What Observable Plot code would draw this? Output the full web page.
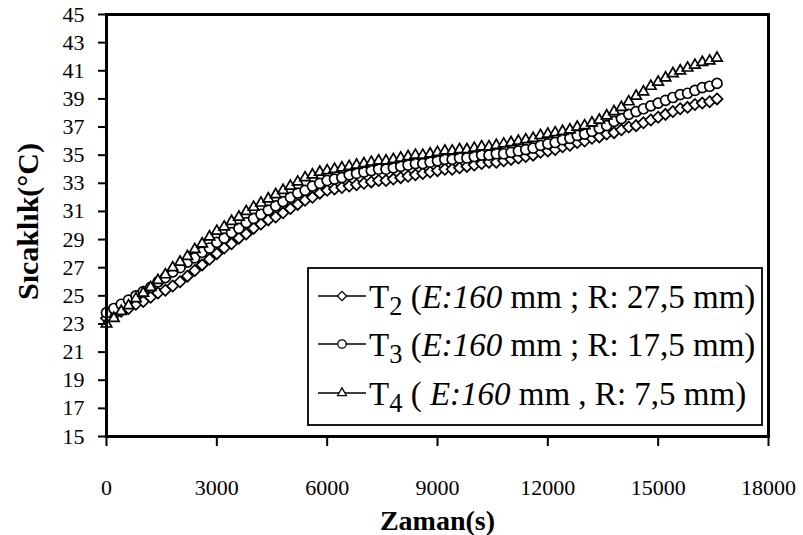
<!DOCTYPE html>
<html>
<head>
<meta charset="utf-8">
<script src="https://cdn.jsdelivr.net/npm/d3@7"></script>
<script src="https://cdn.jsdelivr.net/npm/@observablehq/plot@0.6"></script>
<style>
  html, body { margin: 0; padding: 0; background: #fff; }
  #chart { width: 803px; height: 535px; }
</style>
</head>
<body>
<div id="chart"></div>
<script>
// Sample times (s)
const times = [
  0, 200, 400, 600, 800, 1000, 1200, 1400, 1600, 1800,
  2000, 2200, 2400, 2600, 2800, 3000, 3200, 3400, 3600, 3800,
  4000, 4200, 4400, 4600, 4800, 5000, 5200, 5400, 5600, 5800,
  6000, 6200, 6400, 6600, 6800, 7000, 7200, 7400, 7600, 7800,
  8000, 8200, 8400, 8600, 8800, 9000, 9200, 9400, 9600, 9800,
  10000, 10200, 10400, 10600, 10800, 11000, 11200, 11400, 11600, 11800,
  12000, 12200, 12400, 12600, 12800, 13000, 13200, 13400, 13600, 13800,
  14000, 14200, 14400, 14600, 14800, 15000, 15200, 15400, 15600, 15800,
  16000, 16200, 16400, 16600
];

// T2 (E:160 mm ; R: 27,5 mm), °C
const t2 = [
  23.4, 23.6, 23.9, 24.1, 24.4, 24.6, 24.9, 25.2, 25.4, 25.7,
  26.0, 26.4, 26.8, 27.2, 27.6, 28.0, 28.4, 28.7, 29.1, 29.4,
  29.8, 30.1, 30.4, 30.6, 30.9, 31.2, 31.5, 31.8, 32.0, 32.3,
  32.5, 32.6, 32.7, 32.8, 32.9, 33.0, 33.1, 33.2, 33.2, 33.3,
  33.4, 33.5, 33.6, 33.7, 33.8, 33.9, 34.0, 34.0, 34.1, 34.2,
  34.3, 34.4, 34.5, 34.5, 34.6, 34.7, 34.8, 34.9, 35.0, 35.2,
  35.3, 35.4, 35.6, 35.7, 35.9, 36.0, 36.2, 36.3, 36.5, 36.6,
  36.8, 37.0, 37.1, 37.3, 37.5, 37.7, 37.9, 38.1, 38.3, 38.4,
  38.6, 38.7, 38.8, 39.0
];

// T3 (E:160 mm ; R: 17,5 mm), °C
const t3 = [
  23.8, 24.1, 24.4, 24.7, 25.0, 25.3, 25.6, 26.0, 26.3, 26.7,
  27.0, 27.4, 27.7, 28.1, 28.4, 28.8, 29.1, 29.5, 29.8, 30.2,
  30.5, 30.8, 31.1, 31.4, 31.7, 32.0, 32.3, 32.5, 32.8, 33.0,
  33.2, 33.3, 33.4, 33.6, 33.7, 33.8, 33.9, 34.0, 34.0, 34.1,
  34.2, 34.3, 34.4, 34.4, 34.5, 34.6, 34.7, 34.7, 34.8, 34.8,
  34.9, 35.0, 35.0, 35.1, 35.1, 35.2, 35.3, 35.4, 35.5, 35.7,
  35.8, 35.9, 36.1, 36.2, 36.4, 36.5, 36.7, 36.9, 37.1, 37.4,
  37.6, 37.9, 38.1, 38.3, 38.5, 38.7, 38.9, 39.1, 39.3, 39.4,
  39.6, 39.8, 39.9, 40.1
];

// T4 (E:160 mm , R: 7,5 mm), °C
const t4 = [
  23.0, 23.4, 23.9, 24.3, 24.8, 25.2, 25.6, 26.1, 26.5, 27.0,
  27.4, 27.8, 28.3, 28.7, 29.2, 29.6, 29.9, 30.3, 30.6, 31.0,
  31.3, 31.6, 31.9, 32.2, 32.5, 32.8, 33.1, 33.4, 33.6, 33.8,
  33.9, 34.0, 34.1, 34.2, 34.3, 34.4, 34.5, 34.6, 34.6, 34.7,
  34.8, 34.9, 35.0, 35.0, 35.1, 35.2, 35.3, 35.3, 35.4, 35.4,
  35.5, 35.6, 35.6, 35.7, 35.8, 35.9, 36.0, 36.1, 36.2, 36.4,
  36.5, 36.6, 36.7, 36.8, 37.0, 37.1, 37.3, 37.5, 37.8, 38.1,
  38.4, 38.8, 39.2, 39.5, 39.9, 40.2, 40.5, 40.8, 41.0, 41.2,
  41.4, 41.6, 41.7, 41.9
];

const xTicks = [0, 3000, 6000, 9000, 12000, 15000, 18000];
const yTicks = [15, 17, 19, 21, 23, 25, 27, 29, 31, 33, 35, 37, 39, 41, 43, 45];

const seriesNames = ["T2", "T3", "T4"];
const seriesSub = ["2", "3", "4"];
// legend text pieces: opening, electrode part (italic), remainder
const seriesDesc = [
  [" (", "E:160", " mm ; R: 27,5 mm)"],
  [" (", "E:160", " mm ; R: 17,5 mm)"],
  [" ( ", "E:160", " mm , R: 7,5 mm)"]
];
const seriesSymbols = ["diamond2", "circle", "triangle2"];
const d3Symbols = [d3.symbolDiamond2, d3.symbolCircle, d3.symbolTriangle2];
const seriesValues = [t2, t3, t4];

const rows = [];
seriesValues.forEach((vals, k) => {
  vals.forEach((v, i) => rows.push({series: seriesNames[k], time: times[i], temp: v}));
});

const dotR = 5;
const marks = [];
seriesNames.forEach((name, k) => {
  const data = rows.filter(d => d.series === name);
  marks.push(Plot.line(data, {x: "time", y: "temp", stroke: "black", strokeWidth: 1.2}));
  marks.push(Plot.dot(data, {
    x: "time", y: "temp", symbol: () => seriesSymbols[k], r: dotR,
    fill: "white", stroke: "black", strokeWidth: 1.7
  }));
});

const chart = Plot.plot({
  width: 803,
  height: 535,
  marginLeft: 106,
  marginRight: 35,
  marginTop: 14,
  marginBottom: 99,
  style: {fontFamily: "'Liberation Serif', 'Times New Roman', serif", fontSize: "22px", background: "white", color: "black", overflow: "visible"},
  x: {domain: [0, 18000]},
  y: {domain: [15, 45]},
  symbol: {type: "identity"},
  marks: [
    ...marks,
    Plot.frame({stroke: "black", strokeWidth: 3}),
    Plot.axisX({ticks: xTicks, tickFormat: d3.format("d"), tickSize: 10, tickPadding: 33,
      fontSize: 22, strokeWidth: 2, label: null}),
    Plot.axisY({ticks: yTicks, tickSize: 8, tickPadding: 14, fontSize: 22, strokeWidth: 2, label: null}),
    Plot.text(["Zaman(s)"], {frameAnchor: "bottom", dy: 93, fontSize: 28, fontWeight: "bold"}),
    Plot.text(["Sıcaklık(°C)"], {frameAnchor: "left", dx: -78, dy: -4, rotate: -90, textAnchor: "middle",
      fontSize: 30, fontWeight: "bold"})
  ]
});

document.getElementById("chart").appendChild(chart);

// Legend box with sample line, marker and description for each series
const svg = d3.select(chart);
const lg = svg.append("g").attr("class", "legend").attr("text-anchor", "start");
const box = {x: 308, y: 268, w: 454, h: 157};
lg.append("rect").attr("x", box.x).attr("y", box.y).attr("width", box.w).attr("height", box.h)
  .attr("fill", "white").attr("stroke", "black").attr("stroke-width", 1.8);
const rowY = [296, 344, 393];
seriesNames.forEach((name, k) => {
  const y = rowY[k];
  lg.append("line").attr("x1", 318).attr("x2", 366).attr("y1", y).attr("y2", y)
    .attr("stroke", "black").attr("stroke-width", 1.3);
  lg.append("path").attr("d", d3.symbol(d3Symbols[k], Math.PI * 4.2 * 4.2)())
    .attr("transform", `translate(342,${y})`)
    .attr("fill", "white").attr("stroke", "black").attr("stroke-width", 1.3);
  const t = lg.append("text").attr("x", 369).attr("y", y).attr("dy", "0.35em")
    .attr("font-size", 33).attr("fill", "black");
  t.append("tspan").text("T");
  t.append("tspan").attr("dy", "0.3em").attr("font-size", "0.8em").text(seriesSub[k]);
  t.append("tspan").attr("dy", "-0.24em").text(seriesDesc[k][0]);
  t.append("tspan").attr("font-style", "italic").text(seriesDesc[k][1]);
  t.append("tspan").text(seriesDesc[k][2]);
});
</script>
</body>
</html>
